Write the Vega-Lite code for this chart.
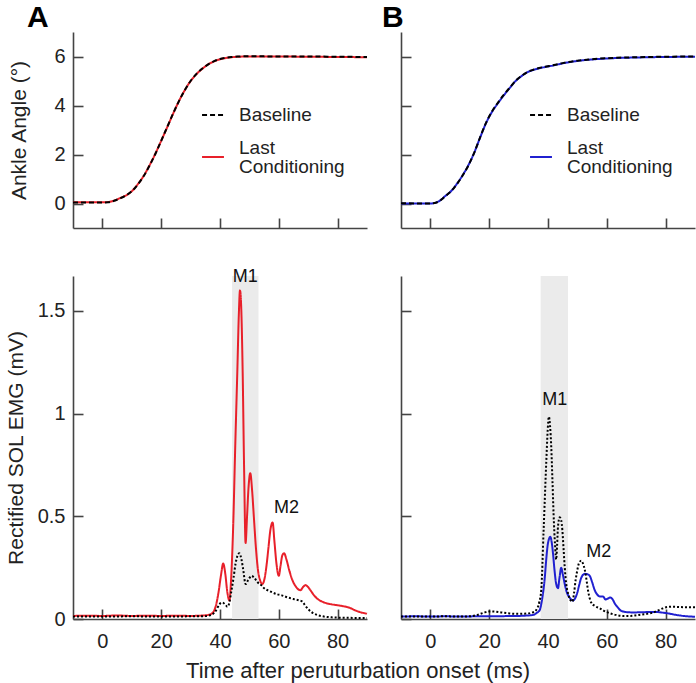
{
 "$schema": "https://vega.github.io/schema/vega-lite/v6.json",
 "padding": {"left": 5, "top": 3, "right": 0, "bottom": 2},
 "background": "white",
 "config": {
  "font": "Liberation Sans",
  "view": {"stroke": null},
  "axis": {"domainColor": "#444", "domainWidth": 1.6, "tickColor": "#444", "tickWidth": 1.6, "tickSize": -10, "labelFontSize": 20, "labelColor": "#222", "titleFontSize": 21, "titleFontWeight": "normal", "titleColor": "#222", "grid": false, "labelFont": "Liberation Sans", "titleFont": "Liberation Sans"},
  "axisX": {"labelPadding": 22},
  "axisY": {"labelPadding": 18},
  "legend": {"orient": "none", "title": null, "symbolType": "stroke", "symbolSize": 480, "symbolStrokeWidth": 2, "labelFontSize": 19, "labelFont": "Liberation Sans", "labelColor": "#222", "labelOffset": 14, "rowPadding": 14, "padding": 0, "labelLimit": 200}
 },
 "datasets": {
  "angleA": [
   {"t": -10, "v": 0.05, "series": "Last Conditioning"}, {"t": 0, "v": 0.05, "series": "Last Conditioning"}, {"t": 2, "v": 0.06, "series": "Last Conditioning"}, {"t": 4, "v": 0.12, "series": "Last Conditioning"}, {"t": 6, "v": 0.22, "series": "Last Conditioning"}, {"t": 8, "v": 0.33, "series": "Last Conditioning"}, {"t": 10, "v": 0.5, "series": "Last Conditioning"}, {"t": 12, "v": 0.78, "series": "Last Conditioning"}, {"t": 14, "v": 1.12, "series": "Last Conditioning"}, {"t": 16, "v": 1.55, "series": "Last Conditioning"}, {"t": 18, "v": 2.03, "series": "Last Conditioning"}, {"t": 20, "v": 2.56, "series": "Last Conditioning"}, {"t": 22, "v": 3.1, "series": "Last Conditioning"}, {"t": 24, "v": 3.65, "series": "Last Conditioning"}, {"t": 26, "v": 4.17, "series": "Last Conditioning"}, {"t": 28, "v": 4.62, "series": "Last Conditioning"}, {"t": 30, "v": 5.0, "series": "Last Conditioning"}, {"t": 32, "v": 5.28, "series": "Last Conditioning"}, {"t": 34, "v": 5.5, "series": "Last Conditioning"}, {"t": 36, "v": 5.68, "series": "Last Conditioning"}, {"t": 38, "v": 5.8, "series": "Last Conditioning"}, {"t": 40, "v": 5.89, "series": "Last Conditioning"}, {"t": 42, "v": 5.94, "series": "Last Conditioning"}, {"t": 44, "v": 5.97, "series": "Last Conditioning"}, {"t": 46, "v": 5.99, "series": "Last Conditioning"}, {"t": 50, "v": 6.0, "series": "Last Conditioning"}, {"t": 60, "v": 6.0, "series": "Last Conditioning"}, {"t": 70, "v": 5.99, "series": "Last Conditioning"}, {"t": 80, "v": 5.98, "series": "Last Conditioning"}, {"t": 90, "v": 5.97, "series": "Last Conditioning"},
   {"t": -10, "v": 0.04, "series": "Baseline"}, {"t": 0, "v": 0.04, "series": "Baseline"}, {"t": 2, "v": 0.05, "series": "Baseline"}, {"t": 4, "v": 0.11, "series": "Baseline"}, {"t": 6, "v": 0.21, "series": "Baseline"}, {"t": 8, "v": 0.33, "series": "Baseline"}, {"t": 10, "v": 0.5, "series": "Baseline"}, {"t": 12, "v": 0.77, "series": "Baseline"}, {"t": 14, "v": 1.11, "series": "Baseline"}, {"t": 16, "v": 1.54, "series": "Baseline"}, {"t": 18, "v": 2.02, "series": "Baseline"}, {"t": 20, "v": 2.56, "series": "Baseline"}, {"t": 22, "v": 3.11, "series": "Baseline"}, {"t": 24, "v": 3.66, "series": "Baseline"}, {"t": 26, "v": 4.17, "series": "Baseline"}, {"t": 28, "v": 4.62, "series": "Baseline"}, {"t": 30, "v": 5.0, "series": "Baseline"}, {"t": 32, "v": 5.29, "series": "Baseline"}, {"t": 34, "v": 5.51, "series": "Baseline"}, {"t": 36, "v": 5.68, "series": "Baseline"}, {"t": 38, "v": 5.81, "series": "Baseline"}, {"t": 40, "v": 5.9, "series": "Baseline"}, {"t": 42, "v": 5.95, "series": "Baseline"}, {"t": 44, "v": 5.98, "series": "Baseline"}, {"t": 46, "v": 6.0, "series": "Baseline"}, {"t": 50, "v": 6.01, "series": "Baseline"}, {"t": 60, "v": 6.0, "series": "Baseline"}, {"t": 70, "v": 6.0, "series": "Baseline"}, {"t": 80, "v": 5.99, "series": "Baseline"}, {"t": 90, "v": 5.98, "series": "Baseline"}
  ],
  "angleB": [
   {"t": -10, "v": 0.0, "series": "Last Conditioning"}, {"t": 0, "v": 0.0, "series": "Last Conditioning"}, {"t": 1, "v": 0.01, "series": "Last Conditioning"}, {"t": 3, "v": 0.1, "series": "Last Conditioning"}, {"t": 5, "v": 0.3, "series": "Last Conditioning"}, {"t": 7, "v": 0.5, "series": "Last Conditioning"}, {"t": 9, "v": 0.8, "series": "Last Conditioning"}, {"t": 11, "v": 1.16, "series": "Last Conditioning"}, {"t": 13, "v": 1.58, "series": "Last Conditioning"}, {"t": 15, "v": 2.1, "series": "Last Conditioning"}, {"t": 17, "v": 2.72, "series": "Last Conditioning"}, {"t": 19, "v": 3.3, "series": "Last Conditioning"}, {"t": 21, "v": 3.75, "series": "Last Conditioning"}, {"t": 23, "v": 4.1, "series": "Last Conditioning"}, {"t": 25, "v": 4.42, "series": "Last Conditioning"}, {"t": 27, "v": 4.72, "series": "Last Conditioning"}, {"t": 29, "v": 5.0, "series": "Last Conditioning"}, {"t": 31, "v": 5.2, "series": "Last Conditioning"}, {"t": 33, "v": 5.36, "series": "Last Conditioning"}, {"t": 35, "v": 5.45, "series": "Last Conditioning"}, {"t": 37, "v": 5.52, "series": "Last Conditioning"}, {"t": 39, "v": 5.57, "series": "Last Conditioning"}, {"t": 42, "v": 5.64, "series": "Last Conditioning"}, {"t": 45, "v": 5.72, "series": "Last Conditioning"}, {"t": 50, "v": 5.82, "series": "Last Conditioning"}, {"t": 55, "v": 5.88, "series": "Last Conditioning"}, {"t": 60, "v": 5.92, "series": "Last Conditioning"}, {"t": 70, "v": 5.96, "series": "Last Conditioning"}, {"t": 80, "v": 5.98, "series": "Last Conditioning"}, {"t": 90, "v": 5.99, "series": "Last Conditioning"},
   {"t": -10, "v": 0.01, "series": "Baseline"}, {"t": 0, "v": 0.0, "series": "Baseline"}, {"t": 1, "v": 0.01, "series": "Baseline"}, {"t": 3, "v": 0.09, "series": "Baseline"}, {"t": 5, "v": 0.29, "series": "Baseline"}, {"t": 7, "v": 0.5, "series": "Baseline"}, {"t": 9, "v": 0.79, "series": "Baseline"}, {"t": 11, "v": 1.15, "series": "Baseline"}, {"t": 13, "v": 1.57, "series": "Baseline"}, {"t": 15, "v": 2.1, "series": "Baseline"}, {"t": 17, "v": 2.73, "series": "Baseline"}, {"t": 19, "v": 3.31, "series": "Baseline"}, {"t": 21, "v": 3.77, "series": "Baseline"}, {"t": 23, "v": 4.12, "series": "Baseline"}, {"t": 25, "v": 4.44, "series": "Baseline"}, {"t": 27, "v": 4.73, "series": "Baseline"}, {"t": 29, "v": 5.01, "series": "Baseline"}, {"t": 31, "v": 5.21, "series": "Baseline"}, {"t": 33, "v": 5.37, "series": "Baseline"}, {"t": 35, "v": 5.46, "series": "Baseline"}, {"t": 37, "v": 5.53, "series": "Baseline"}, {"t": 39, "v": 5.58, "series": "Baseline"}, {"t": 42, "v": 5.65, "series": "Baseline"}, {"t": 45, "v": 5.73, "series": "Baseline"}, {"t": 50, "v": 5.83, "series": "Baseline"}, {"t": 55, "v": 5.89, "series": "Baseline"}, {"t": 60, "v": 5.93, "series": "Baseline"}, {"t": 70, "v": 5.97, "series": "Baseline"}, {"t": 80, "v": 5.99, "series": "Baseline"}, {"t": 90, "v": 6.0, "series": "Baseline"}
  ],
  "emgA": [
   {"t": -10, "v": 0.015, "series": "Last Conditioning"}, {"t": -5, "v": 0.016, "series": "Last Conditioning"}, {"t": 0, "v": 0.015, "series": "Last Conditioning"}, {"t": 5, "v": 0.017, "series": "Last Conditioning"}, {"t": 10, "v": 0.015, "series": "Last Conditioning"}, {"t": 15, "v": 0.016, "series": "Last Conditioning"}, {"t": 20, "v": 0.015, "series": "Last Conditioning"}, {"t": 25, "v": 0.016, "series": "Last Conditioning"}, {"t": 30, "v": 0.015, "series": "Last Conditioning"}, {"t": 34, "v": 0.017, "series": "Last Conditioning"}, {"t": 36, "v": 0.02, "series": "Last Conditioning"}, {"t": 37.5, "v": 0.03, "series": "Last Conditioning"}, {"t": 38.5, "v": 0.06, "series": "Last Conditioning"}, {"t": 39.5, "v": 0.13, "series": "Last Conditioning"}, {"t": 40.3, "v": 0.21, "series": "Last Conditioning"}, {"t": 41.1, "v": 0.27, "series": "Last Conditioning"}, {"t": 41.8, "v": 0.22, "series": "Last Conditioning"}, {"t": 42.5, "v": 0.13, "series": "Last Conditioning"}, {"t": 43.2, "v": 0.09, "series": "Last Conditioning"}, {"t": 43.8, "v": 0.2, "series": "Last Conditioning"}, {"t": 44.5, "v": 0.46, "series": "Last Conditioning"}, {"t": 45.2, "v": 0.85, "series": "Last Conditioning"}, {"t": 45.9, "v": 1.21, "series": "Last Conditioning"}, {"t": 46.4, "v": 1.48, "series": "Last Conditioning"}, {"t": 46.8, "v": 1.6, "series": "Last Conditioning"}, {"t": 47.3, "v": 1.48, "series": "Last Conditioning"}, {"t": 47.7, "v": 1.21, "series": "Last Conditioning"}, {"t": 48.2, "v": 0.73, "series": "Last Conditioning"}, {"t": 48.7, "v": 0.37, "series": "Last Conditioning"}, {"t": 49.2, "v": 0.5, "series": "Last Conditioning"}, {"t": 49.7, "v": 0.64, "series": "Last Conditioning"}, {"t": 50.3, "v": 0.71, "series": "Last Conditioning"}, {"t": 50.9, "v": 0.63, "series": "Last Conditioning"}, {"t": 51.5, "v": 0.5, "series": "Last Conditioning"}, {"t": 52.2, "v": 0.35, "series": "Last Conditioning"}, {"t": 52.9, "v": 0.24, "series": "Last Conditioning"}, {"t": 53.6, "v": 0.19, "series": "Last Conditioning"}, {"t": 54.4, "v": 0.17, "series": "Last Conditioning"}, {"t": 55.2, "v": 0.2, "series": "Last Conditioning"}, {"t": 55.9, "v": 0.27, "series": "Last Conditioning"}, {"t": 56.5, "v": 0.35, "series": "Last Conditioning"}, {"t": 57.1, "v": 0.43, "series": "Last Conditioning"}, {"t": 57.9, "v": 0.47, "series": "Last Conditioning"}, {"t": 58.5, "v": 0.38, "series": "Last Conditioning"}, {"t": 59.2, "v": 0.27, "series": "Last Conditioning"}, {"t": 60, "v": 0.21, "series": "Last Conditioning"}, {"t": 60.6, "v": 0.26, "series": "Last Conditioning"}, {"t": 61.2, "v": 0.31, "series": "Last Conditioning"}, {"t": 61.8, "v": 0.32, "series": "Last Conditioning"}, {"t": 62.6, "v": 0.29, "series": "Last Conditioning"}, {"t": 63.5, "v": 0.24, "series": "Last Conditioning"}, {"t": 64.6, "v": 0.19, "series": "Last Conditioning"}, {"t": 65.7, "v": 0.16, "series": "Last Conditioning"}, {"t": 67.4, "v": 0.14, "series": "Last Conditioning"}, {"t": 68.2, "v": 0.155, "series": "Last Conditioning"}, {"t": 69.1, "v": 0.165, "series": "Last Conditioning"}, {"t": 70, "v": 0.155, "series": "Last Conditioning"}, {"t": 71, "v": 0.135, "series": "Last Conditioning"}, {"t": 72, "v": 0.115, "series": "Last Conditioning"}, {"t": 73, "v": 0.1, "series": "Last Conditioning"}, {"t": 75, "v": 0.083, "series": "Last Conditioning"}, {"t": 77, "v": 0.074, "series": "Last Conditioning"}, {"t": 80, "v": 0.067, "series": "Last Conditioning"}, {"t": 82, "v": 0.062, "series": "Last Conditioning"}, {"t": 84, "v": 0.055, "series": "Last Conditioning"}, {"t": 86, "v": 0.042, "series": "Last Conditioning"}, {"t": 88, "v": 0.032, "series": "Last Conditioning"}, {"t": 90, "v": 0.026, "series": "Last Conditioning"},
   {"t": -10, "v": 0.012, "series": "Baseline"}, {"t": 0, "v": 0.012, "series": "Baseline"}, {"t": 10, "v": 0.013, "series": "Baseline"}, {"t": 20, "v": 0.012, "series": "Baseline"}, {"t": 30, "v": 0.013, "series": "Baseline"}, {"t": 35, "v": 0.014, "series": "Baseline"}, {"t": 37, "v": 0.02, "series": "Baseline"}, {"t": 38, "v": 0.03, "series": "Baseline"}, {"t": 39, "v": 0.05, "series": "Baseline"}, {"t": 39.7, "v": 0.07, "series": "Baseline"}, {"t": 40.8, "v": 0.08, "series": "Baseline"}, {"t": 41.8, "v": 0.07, "series": "Baseline"}, {"t": 42.5, "v": 0.06, "series": "Baseline"}, {"t": 43.2, "v": 0.08, "series": "Baseline"}, {"t": 43.8, "v": 0.13, "series": "Baseline"}, {"t": 44.6, "v": 0.2, "series": "Baseline"}, {"t": 45.3, "v": 0.27, "series": "Baseline"}, {"t": 46, "v": 0.31, "series": "Baseline"}, {"t": 46.6, "v": 0.32, "series": "Baseline"}, {"t": 47.3, "v": 0.29, "series": "Baseline"}, {"t": 47.9, "v": 0.24, "series": "Baseline"}, {"t": 48.7, "v": 0.17, "series": "Baseline"}, {"t": 49.6, "v": 0.19, "series": "Baseline"}, {"t": 50.7, "v": 0.21, "series": "Baseline"}, {"t": 51.7, "v": 0.2, "series": "Baseline"}, {"t": 52.7, "v": 0.18, "series": "Baseline"}, {"t": 54, "v": 0.165, "series": "Baseline"}, {"t": 55, "v": 0.15, "series": "Baseline"}, {"t": 57, "v": 0.135, "series": "Baseline"}, {"t": 59.5, "v": 0.12, "series": "Baseline"}, {"t": 61, "v": 0.115, "series": "Baseline"}, {"t": 63, "v": 0.105, "series": "Baseline"}, {"t": 65, "v": 0.097, "series": "Baseline"}, {"t": 67, "v": 0.09, "series": "Baseline"}, {"t": 68, "v": 0.085, "series": "Baseline"}, {"t": 69, "v": 0.065, "series": "Baseline"}, {"t": 70.3, "v": 0.044, "series": "Baseline"}, {"t": 71.5, "v": 0.03, "series": "Baseline"}, {"t": 73, "v": 0.02, "series": "Baseline"}, {"t": 75, "v": 0.013, "series": "Baseline"}, {"t": 78, "v": 0.008, "series": "Baseline"}, {"t": 82, "v": 0.006, "series": "Baseline"}, {"t": 90, "v": 0.005, "series": "Baseline"}
  ],
  "emgB": [
   {"t": -10, "v": 0.012, "series": "Last Conditioning"}, {"t": -5, "v": 0.013, "series": "Last Conditioning"}, {"t": 0, "v": 0.012, "series": "Last Conditioning"}, {"t": 5, "v": 0.013, "series": "Last Conditioning"}, {"t": 10, "v": 0.012, "series": "Last Conditioning"}, {"t": 15, "v": 0.013, "series": "Last Conditioning"}, {"t": 20, "v": 0.014, "series": "Last Conditioning"}, {"t": 25, "v": 0.014, "series": "Last Conditioning"}, {"t": 30, "v": 0.015, "series": "Last Conditioning"}, {"t": 33, "v": 0.017, "series": "Last Conditioning"}, {"t": 35, "v": 0.02, "series": "Last Conditioning"}, {"t": 36.2, "v": 0.03, "series": "Last Conditioning"}, {"t": 37.2, "v": 0.044, "series": "Last Conditioning"}, {"t": 37.8, "v": 0.08, "series": "Last Conditioning"}, {"t": 38.3, "v": 0.125, "series": "Last Conditioning"}, {"t": 38.9, "v": 0.2, "series": "Last Conditioning"}, {"t": 39.4, "v": 0.29, "series": "Last Conditioning"}, {"t": 40, "v": 0.37, "series": "Last Conditioning"}, {"t": 40.8, "v": 0.4, "series": "Last Conditioning"}, {"t": 41.3, "v": 0.37, "series": "Last Conditioning"}, {"t": 41.7, "v": 0.32, "series": "Last Conditioning"}, {"t": 42.2, "v": 0.24, "series": "Last Conditioning"}, {"t": 42.8, "v": 0.17, "series": "Last Conditioning"}, {"t": 43.4, "v": 0.15, "series": "Last Conditioning"}, {"t": 43.9, "v": 0.2, "series": "Last Conditioning"}, {"t": 44.5, "v": 0.25, "series": "Last Conditioning"}, {"t": 45, "v": 0.22, "series": "Last Conditioning"}, {"t": 45.7, "v": 0.17, "series": "Last Conditioning"}, {"t": 46.4, "v": 0.13, "series": "Last Conditioning"}, {"t": 47.1, "v": 0.11, "series": "Last Conditioning"}, {"t": 48.5, "v": 0.09, "series": "Last Conditioning"}, {"t": 49.2, "v": 0.1, "series": "Last Conditioning"}, {"t": 49.9, "v": 0.125, "series": "Last Conditioning"}, {"t": 50.6, "v": 0.165, "series": "Last Conditioning"}, {"t": 51.3, "v": 0.2, "series": "Last Conditioning"}, {"t": 52.5, "v": 0.22, "series": "Last Conditioning"}, {"t": 53.4, "v": 0.218, "series": "Last Conditioning"}, {"t": 54.2, "v": 0.21, "series": "Last Conditioning"}, {"t": 55, "v": 0.18, "series": "Last Conditioning"}, {"t": 55.9, "v": 0.14, "series": "Last Conditioning"}, {"t": 56.7, "v": 0.12, "series": "Last Conditioning"}, {"t": 57.6, "v": 0.11, "series": "Last Conditioning"}, {"t": 58.7, "v": 0.11, "series": "Last Conditioning"}, {"t": 59.6, "v": 0.095, "series": "Last Conditioning"}, {"t": 60.4, "v": 0.1, "series": "Last Conditioning"}, {"t": 61.2, "v": 0.105, "series": "Last Conditioning"}, {"t": 62, "v": 0.095, "series": "Last Conditioning"}, {"t": 62.7, "v": 0.076, "series": "Last Conditioning"}, {"t": 63.8, "v": 0.055, "series": "Last Conditioning"}, {"t": 64.9, "v": 0.04, "series": "Last Conditioning"}, {"t": 66.5, "v": 0.034, "series": "Last Conditioning"}, {"t": 68.9, "v": 0.032, "series": "Last Conditioning"}, {"t": 72, "v": 0.033, "series": "Last Conditioning"}, {"t": 75, "v": 0.034, "series": "Last Conditioning"}, {"t": 77, "v": 0.034, "series": "Last Conditioning"}, {"t": 79.1, "v": 0.031, "series": "Last Conditioning"}, {"t": 81, "v": 0.027, "series": "Last Conditioning"}, {"t": 83.6, "v": 0.02, "series": "Last Conditioning"}, {"t": 86, "v": 0.015, "series": "Last Conditioning"}, {"t": 90, "v": 0.011, "series": "Last Conditioning"},
   {"t": -10, "v": 0.012, "series": "Baseline"}, {"t": -5, "v": 0.012, "series": "Baseline"}, {"t": 0, "v": 0.012, "series": "Baseline"}, {"t": 5, "v": 0.013, "series": "Baseline"}, {"t": 10, "v": 0.012, "series": "Baseline"}, {"t": 14, "v": 0.014, "series": "Baseline"}, {"t": 16, "v": 0.02, "series": "Baseline"}, {"t": 18, "v": 0.03, "series": "Baseline"}, {"t": 20, "v": 0.037, "series": "Baseline"}, {"t": 22, "v": 0.036, "series": "Baseline"}, {"t": 24, "v": 0.032, "series": "Baseline"}, {"t": 27, "v": 0.027, "series": "Baseline"}, {"t": 30, "v": 0.025, "series": "Baseline"}, {"t": 33, "v": 0.027, "series": "Baseline"}, {"t": 35, "v": 0.033, "series": "Baseline"}, {"t": 36, "v": 0.044, "series": "Baseline"}, {"t": 37, "v": 0.08, "series": "Baseline"}, {"t": 37.7, "v": 0.14, "series": "Baseline"}, {"t": 38.5, "v": 0.43, "series": "Baseline"}, {"t": 39.4, "v": 0.76, "series": "Baseline"}, {"t": 39.9, "v": 0.92, "series": "Baseline"}, {"t": 40.3, "v": 0.985, "series": "Baseline"}, {"t": 40.7, "v": 0.94, "series": "Baseline"}, {"t": 41.1, "v": 0.84, "series": "Baseline"}, {"t": 41.5, "v": 0.68, "series": "Baseline"}, {"t": 41.9, "v": 0.51, "series": "Baseline"}, {"t": 42.4, "v": 0.36, "series": "Baseline"}, {"t": 42.8, "v": 0.29, "series": "Baseline"}, {"t": 43.1, "v": 0.36, "series": "Baseline"}, {"t": 43.4, "v": 0.45, "series": "Baseline"}, {"t": 44, "v": 0.495, "series": "Baseline"}, {"t": 44.5, "v": 0.48, "series": "Baseline"}, {"t": 44.9, "v": 0.43, "series": "Baseline"}, {"t": 45.3, "v": 0.34, "series": "Baseline"}, {"t": 45.7, "v": 0.25, "series": "Baseline"}, {"t": 46.2, "v": 0.17, "series": "Baseline"}, {"t": 46.8, "v": 0.125, "series": "Baseline"}, {"t": 47.5, "v": 0.095, "series": "Baseline"}, {"t": 48.3, "v": 0.084, "series": "Baseline"}, {"t": 48.8, "v": 0.12, "series": "Baseline"}, {"t": 49.4, "v": 0.19, "series": "Baseline"}, {"t": 50, "v": 0.24, "series": "Baseline"}, {"t": 50.5, "v": 0.27, "series": "Baseline"}, {"t": 51.3, "v": 0.284, "series": "Baseline"}, {"t": 51.9, "v": 0.27, "series": "Baseline"}, {"t": 52.5, "v": 0.24, "series": "Baseline"}, {"t": 53.1, "v": 0.19, "series": "Baseline"}, {"t": 53.6, "v": 0.14, "series": "Baseline"}, {"t": 54.2, "v": 0.1, "series": "Baseline"}, {"t": 54.7, "v": 0.08, "series": "Baseline"}, {"t": 56, "v": 0.063, "series": "Baseline"}, {"t": 57.6, "v": 0.052, "series": "Baseline"}, {"t": 59, "v": 0.04, "series": "Baseline"}, {"t": 61, "v": 0.028, "series": "Baseline"}, {"t": 63, "v": 0.02, "series": "Baseline"}, {"t": 65.5, "v": 0.015, "series": "Baseline"}, {"t": 68, "v": 0.015, "series": "Baseline"}, {"t": 71, "v": 0.02, "series": "Baseline"}, {"t": 73, "v": 0.024, "series": "Baseline"}, {"t": 75.7, "v": 0.031, "series": "Baseline"}, {"t": 77.5, "v": 0.042, "series": "Baseline"}, {"t": 79.1, "v": 0.052, "series": "Baseline"}, {"t": 80.5, "v": 0.058, "series": "Baseline"}, {"t": 82.5, "v": 0.06, "series": "Baseline"}, {"t": 85, "v": 0.058, "series": "Baseline"}, {"t": 90, "v": 0.057, "series": "Baseline"}
  ],
  "bandA": [{"t": 44.1, "t2": 53.1}],
  "bandB": [{"t": 37.5, "t2": 46.8}],
  "labA": [{"t": 48.6, "v": 1.665, "label": "M1"}, {"t": 62.6, "v": 0.54, "label": "M2"}],
  "labB": [{"t": 42.3, "v": 1.066, "label": "M1"}, {"t": 57.3, "v": 0.328, "label": "M2"}]
 },
 "title": {"text": "Time after peruturbation onset (ms)", "orient": "bottom", "anchor": "middle", "fontSize": 22, "fontWeight": "normal", "color": "#222", "font": "Liberation Sans", "offset": 10, "dx": 6},
 "columns": 2,
 "spacing": {"row": 48, "column": 34},
 "bounds": "flush",
 "resolve": {"scale": {"color": "independent", "strokeDash": "independent"}, "legend": {"color": "independent", "strokeDash": "independent"}},
 "concat": [
  {
   "width": 294, "height": 196,
   "title": {"text": "A", "anchor": "start", "frame": "group", "fontSize": 30, "fontWeight": "bold", "color": "#000", "font": "Liberation Sans", "dx": -46, "offset": -25, "baseline": "alphabetic"},
   "data": {"name": "angleA"},
   "mark": {"type": "line", "strokeWidth": 2, "interpolate": "monotone"},
   "encoding": {
    "x": {"field": "t", "type": "quantitative", "scale": {"domain": [-10, 90], "nice": false, "zero": false}, "axis": {"values": [0, 20, 40, 60, 80], "labels": false, "title": null}},
    "y": {"field": "v", "type": "quantitative", "scale": {"domain": [-1, 7], "nice": false, "zero": false}, "axis": {"values": [0, 2, 4, 6], "title": "Ankle Angle (°)", "titlePadding": 24}},
    "color": {"field": "series", "type": "nominal", "scale": {"domain": ["Baseline", "Last Conditioning"], "range": ["#000000", "#e8202a"]}, "legend": {"legendX": 128, "legendY": 71, "labelExpr": "datum.label == 'Last Conditioning' ? ['Last', 'Conditioning'] : datum.label", "encode": {"labels": {"update": {"dy": {"signal": "datum.value == 'Last Conditioning' ? -9 : 0"}, "lineHeight": {"value": 18.5}}}}}},
    "strokeDash": {"field": "series", "type": "nominal", "scale": {"domain": ["Baseline", "Last Conditioning"], "range": [[5, 3], [1, 0]]}, "legend": {"legendX": 128, "legendY": 71, "labelExpr": "datum.label == 'Last Conditioning' ? ['Last', 'Conditioning'] : datum.label", "encode": {"labels": {"update": {"dy": {"signal": "datum.value == 'Last Conditioning' ? -9 : 0"}, "lineHeight": {"value": 18.5}}}}}}
   }
  },
  {
   "width": 294, "height": 196,
   "title": {"text": "B", "anchor": "start", "frame": "group", "fontSize": 30, "fontWeight": "bold", "color": "#000", "font": "Liberation Sans", "dx": -19, "offset": -25, "baseline": "alphabetic"},
   "data": {"name": "angleB"},
   "mark": {"type": "line", "strokeWidth": 2, "interpolate": "monotone"},
   "encoding": {
    "x": {"field": "t", "type": "quantitative", "scale": {"domain": [-10, 90], "nice": false, "zero": false}, "axis": {"values": [0, 20, 40, 60, 80], "labels": false, "title": null}},
    "y": {"field": "v", "type": "quantitative", "scale": {"domain": [-1, 7], "nice": false, "zero": false}, "axis": {"values": [0, 2, 4, 6], "labels": false, "title": null}},
    "color": {"field": "series", "type": "nominal", "scale": {"domain": ["Baseline", "Last Conditioning"], "range": ["#000000", "#2020d0"]}, "legend": {"legendX": 128, "legendY": 71, "labelExpr": "datum.label == 'Last Conditioning' ? ['Last', 'Conditioning'] : datum.label", "encode": {"labels": {"update": {"dy": {"signal": "datum.value == 'Last Conditioning' ? -9 : 0"}, "lineHeight": {"value": 18.5}}}}}},
    "strokeDash": {"field": "series", "type": "nominal", "scale": {"domain": ["Baseline", "Last Conditioning"], "range": [[5, 3], [1, 0]]}, "legend": {"legendX": 128, "legendY": 71, "labelExpr": "datum.label == 'Last Conditioning' ? ['Last', 'Conditioning'] : datum.label", "encode": {"labels": {"update": {"dy": {"signal": "datum.value == 'Last Conditioning' ? -9 : 0"}, "lineHeight": {"value": 18.5}}}}}}
   }
  },
  {
   "width": 294, "height": 343,
   "layer": [
    {
     "data": {"name": "bandA"},
     "mark": {"type": "rect", "color": "#ebebeb"},
     "encoding": {
      "x": {"field": "t", "type": "quantitative", "scale": {"domain": [-10, 90], "nice": false, "zero": false}, "axis": {"values": [0, 20, 40, 60, 80], "title": null}},
      "x2": {"field": "t2"}
     }
    },
    {
     "data": {"name": "emgA"},
     "mark": {"type": "line", "strokeWidth": 2, "interpolate": "monotone"},
     "encoding": {
      "x": {"field": "t", "type": "quantitative", "scale": {"domain": [-10, 90], "nice": false, "zero": false}, "axis": {"values": [0, 20, 40, 60, 80], "title": null}},
      "y": {"field": "v", "type": "quantitative", "scale": {"domain": [0, 1.67], "nice": false, "zero": false}, "axis": {"values": [0, 0.5, 1, 1.5], "format": "~g", "title": "Rectified SOL EMG (mV)", "titlePadding": 11}},
      "color": {"field": "series", "type": "nominal", "scale": {"domain": ["Baseline", "Last Conditioning"], "range": ["#000000", "#e8202a"]}, "legend": null},
      "strokeDash": {"field": "series", "type": "nominal", "scale": {"domain": ["Baseline", "Last Conditioning"], "range": [[2, 2], [1, 0]]}, "legend": null}
     }
    },
    {
     "data": {"name": "labA"},
     "mark": {"type": "text", "fontSize": 18, "font": "Liberation Sans", "color": "#111"},
     "encoding": {
      "x": {"field": "t", "type": "quantitative"},
      "y": {"field": "v", "type": "quantitative"},
      "text": {"field": "label"}
     }
    }
   ]
  },
  {
   "width": 294, "height": 343,
   "layer": [
    {
     "data": {"name": "bandB"},
     "mark": {"type": "rect", "color": "#ebebeb"},
     "encoding": {
      "x": {"field": "t", "type": "quantitative", "scale": {"domain": [-10, 90], "nice": false, "zero": false}, "axis": {"values": [0, 20, 40, 60, 80], "title": null}},
      "x2": {"field": "t2"}
     }
    },
    {
     "data": {"name": "emgB"},
     "mark": {"type": "line", "strokeWidth": 2, "interpolate": "monotone"},
     "encoding": {
      "x": {"field": "t", "type": "quantitative", "scale": {"domain": [-10, 90], "nice": false, "zero": false}, "axis": {"values": [0, 20, 40, 60, 80], "title": null}},
      "y": {"field": "v", "type": "quantitative", "scale": {"domain": [0, 1.67], "nice": false, "zero": false}, "axis": {"values": [0, 0.5, 1, 1.5], "labels": false, "title": null}},
      "color": {"field": "series", "type": "nominal", "scale": {"domain": ["Baseline", "Last Conditioning"], "range": ["#000000", "#2020d0"]}, "legend": null},
      "strokeDash": {"field": "series", "type": "nominal", "scale": {"domain": ["Baseline", "Last Conditioning"], "range": [[2, 2], [1, 0]]}, "legend": null}
     }
    },
    {
     "data": {"name": "labB"},
     "mark": {"type": "text", "fontSize": 18, "font": "Liberation Sans", "color": "#111"},
     "encoding": {
      "x": {"field": "t", "type": "quantitative"},
      "y": {"field": "v", "type": "quantitative"},
      "text": {"field": "label"}
     }
    }
   ]
  }
 ]
}
